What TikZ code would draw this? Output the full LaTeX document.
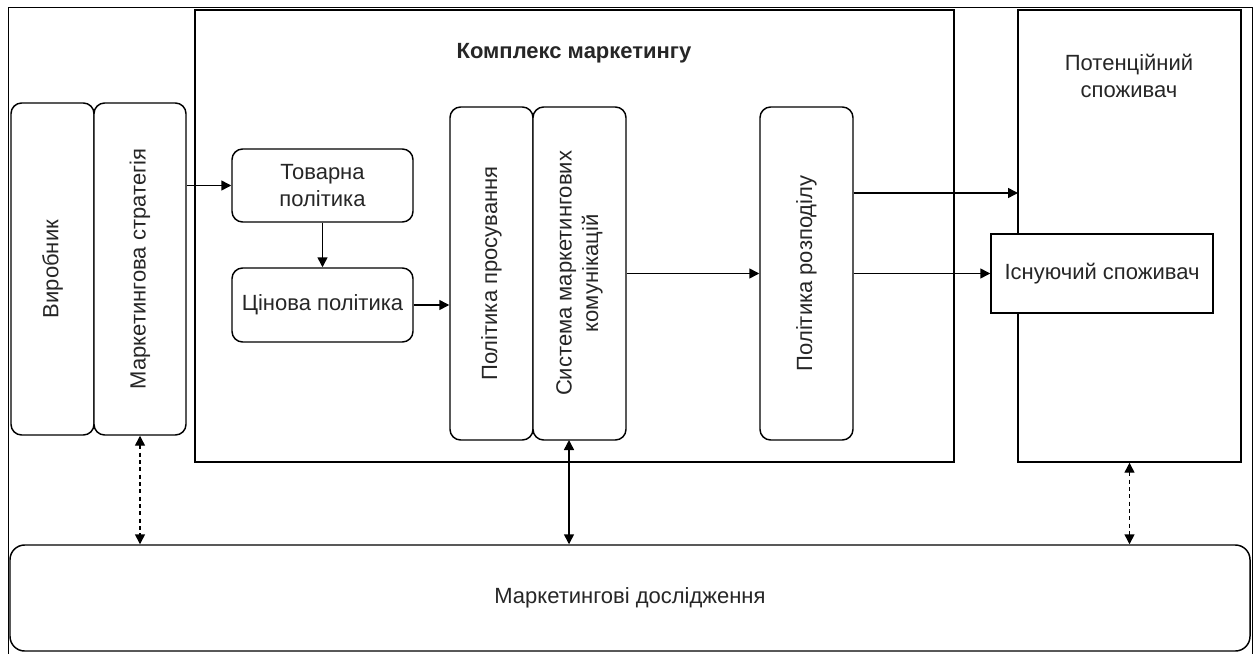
\documentclass[tikz,border=0pt]{standalone}
\usepackage{fontspec}
\setmainfont{Liberation Sans}
\usetikzlibrary{fit,arrows.meta}
\begin{document}
\begin{tikzpicture}[x=0.75pt,y=-0.75pt,
  lbl/.style={font=\fontsize{16.5}{20}\selectfont, align=center, inner sep=0pt, text=black!85},
  rbox/.style={draw, line width=1.1pt, rounded corners=8pt, inner sep=0pt, fill=white},
  sbox/.style={draw, line width=1.1pt, inner sep=0pt, fill=white},
  frame/.style={draw, line width=0.6pt, inner sep=0pt},
  arr/.style={line width=1.1pt, -{Triangle[length=7.5pt,width=7.5pt]}},
  darr/.style={line width=1.1pt, {Triangle[length=7.5pt,width=7.5pt]}-{Triangle[length=7.5pt,width=7.5pt]}},
  ddarr/.style={darr, dash pattern=on 3pt off 2.5pt}]
\useasboundingbox (0,0) rectangle (1256,653);
% outer frame
\node[frame, fit={(8,7) (1252,670)}] (outer) {};
% marketing mix container
\node[sbox, fit={(195,10) (954,462)}] (mix) {};
\node[lbl, font=\bfseries\fontsize{16.5}{20}\selectfont] (mixt) at (574,53) {Комплекс маркетингу};
% potential consumer
\node[sbox, fit={(1018,10) (1241,462)}] (pot) {};
\node[lbl] (pott) at (1129,76) {Потенційний\\споживач};
\node[sbox, fit={(991,234) (1213,313)}] (isn) {};
\node[lbl] (isnt) at (isn.center) {Існуючий споживач};
% producer and strategy
\node[rbox, fit={(11,103) (94,435)}] (vyr) {};
\node[lbl, rotate=90] (vyrt) at (vyr.center) {Виробник};
\node[rbox, fit={(94,103) (186,435)}] (strat) {};
\node[lbl, rotate=90] (stratt) at (strat.center) {Маркетингова стратегія};
% product and price
\node[rbox, fit={(232,149) (413,222)}] (tov) {};
\node[lbl] (tovt) at (tov.center) {Товарна\\політика};
\node[rbox, fit={(232,268) (413,342)}] (cin) {};
\node[lbl] (cint) at (cin.center) {Цінова політика};
% promotion, communications, distribution
\node[rbox, fit={(450,107) (533,440)}] (prom) {};
\node[lbl, rotate=90] (promt) at (prom.center) {Політика просування};
\node[rbox, fit={(533,107) (626,440)}] (sys) {};
\node[lbl, rotate=90] (syst) at (sys.center) {Система маркетингових\\комунікацій};
\node[rbox, fit={(760,107) (853,440)}] (rozp) {};
\node[lbl, rotate=90] (rozpt) at (rozp.center) {Політика розподілу};
% research
\node[rbox, rounded corners=11pt, fit={(10,545) (1250,651)}] (res) {};
\node[lbl] (rest) at (630,598) {Маркетингові дослідження};
% connectors
\coordinate (potin) at (1018,193);
\coordinate (sysb) at (569,440);
\draw[arr] (strat.east |- tov.west) -- (tov.west);
\draw[arr] (tov.south) -- (cin.north);
\draw[arr] (cin.east) -- (cin.east -| prom.west);
\draw[arr] (sys.east) -- (rozp.west);
\draw[arr] (rozp.east |- potin) -- (potin);
\draw[arr] (rozp.east |- isn.west) -- (isn.west);
\draw[ddarr] (strat.south) -- (strat.south |- res.north);
\draw[darr] (sysb) -- (sysb |- res.north);
\draw[ddarr] (pot.south) -- (pot.south |- res.north);
\end{tikzpicture}
\end{document}
